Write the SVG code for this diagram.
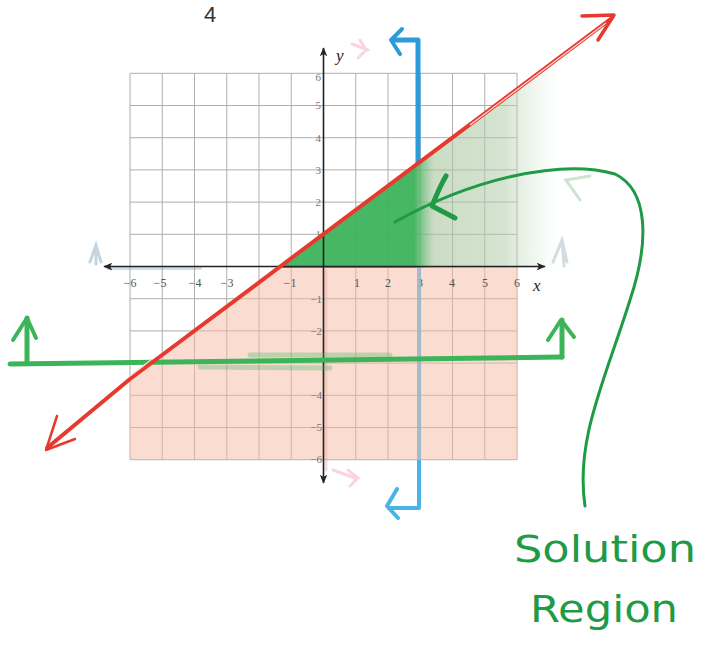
<svg xmlns="http://www.w3.org/2000/svg" width="705" height="671" viewBox="0 0 705 671">
<style>
.grid{stroke:#9a9a9a;stroke-width:1;opacity:0.8}
.tick{font-family:"Liberation Serif",serif;font-size:12px;fill:#555}
.ytick{font-family:"Liberation Serif",serif;font-size:11px;fill:#777;text-anchor:end}
.axis{stroke:#222;stroke-width:1.6;fill:none}
.red{stroke:#e8392f;fill:none;stroke-linecap:round;stroke-linejoin:round}
.green{stroke:#3cb55a;fill:none;stroke-linecap:round;stroke-linejoin:round}
.dgreen{stroke:#1f9a45;fill:none;stroke-linecap:round;stroke-linejoin:round}
.blue{stroke:#2b9bd9;fill:none;stroke-linecap:round;stroke-linejoin:round}
.hand{font-family:"DejaVu Sans","Liberation Sans",sans-serif;fill:#1f9a45;font-size:38px}
</style>
<defs>
<marker id="ah" viewBox="0 0 12 10" refX="11" refY="5" markerWidth="9" markerHeight="8" orient="auto-start-reverse" markerUnits="userSpaceOnUse">
<path d="M0,0 L12,5 L0,10 L3,5 Z" fill="#222"/>
</marker>
<linearGradient id="gshade" gradientUnits="userSpaceOnUse" x1="280" y1="0" x2="560" y2="0">
<stop offset="0" stop-color="#3db35c" stop-opacity="0.95"/>
<stop offset="0.48" stop-color="#3db35c" stop-opacity="0.95"/>
<stop offset="0.55" stop-color="#a9c59f" stop-opacity="0.6"/>
<stop offset="0.8" stop-color="#b3cdaa" stop-opacity="0.55"/>
<stop offset="1" stop-color="#d6eed9" stop-opacity="0"/>
</linearGradient>
</defs>
<rect width="705" height="671" fill="#ffffff"/>

<!-- faint erased marks -->
<g id="ghosts" fill="none" stroke-linecap="round">
<path d="M352,44 L368,50 M360,40 L366,50 L358,58" stroke="#f6b8c8" stroke-width="3" opacity="0.6"/>
<path d="M333,470 L355,478 M348,470 L358,478 L350,486" stroke="#f6b8c8" stroke-width="3" opacity="0.6"/>
<path d="M90,262 L96,245 L101,262 M96,246 L96,264" stroke="#9fb8c6" stroke-width="3" opacity="0.6"/>
<path d="M553,262 L562,240 L567,262 M562,240 L564,266" stroke="#b8c4cc" stroke-width="3" opacity="0.6"/>
<path d="M590,176 L566,180 L580,200" stroke="#b6d8bb" stroke-width="3" opacity="0.7"/>
<line x1="326" y1="270" x2="326" y2="470" stroke="#f4a9b8" stroke-width="3" opacity="0.45"/>
<line x1="108" y1="268" x2="200" y2="268" stroke="#9fc0d2" stroke-width="4" opacity="0.5"/>
</g>

<!-- grid -->
<g id="grid">
<g class="grid">
<line x1="130" y1="73.3" x2="130" y2="459.7"/>
<line x1="162.25" y1="73.3" x2="162.25" y2="459.7"/>
<line x1="194.5" y1="73.3" x2="194.5" y2="459.7"/>
<line x1="226.75" y1="73.3" x2="226.75" y2="459.7"/>
<line x1="259" y1="73.3" x2="259" y2="459.7"/>
<line x1="291.25" y1="73.3" x2="291.25" y2="459.7"/>
<line x1="355.75" y1="73.3" x2="355.75" y2="459.7"/>
<line x1="388" y1="73.3" x2="388" y2="459.7"/>
<line x1="420.25" y1="73.3" x2="420.25" y2="459.7"/>
<line x1="452.5" y1="73.3" x2="452.5" y2="459.7"/>
<line x1="484.75" y1="73.3" x2="484.75" y2="459.7"/>
<line x1="517" y1="73.3" x2="517" y2="459.7"/>
<line x1="130" y1="73.3" x2="517" y2="73.3"/>
<line x1="130" y1="105.5" x2="517" y2="105.5"/>
<line x1="130" y1="137.7" x2="517" y2="137.7"/>
<line x1="130" y1="169.9" x2="517" y2="169.9"/>
<line x1="130" y1="202.1" x2="517" y2="202.1"/>
<line x1="130" y1="234.3" x2="517" y2="234.3"/>
<line x1="130" y1="298.7" x2="517" y2="298.7"/>
<line x1="130" y1="330.9" x2="517" y2="330.9"/>
<line x1="130" y1="363.1" x2="517" y2="363.1"/>
<line x1="130" y1="395.3" x2="517" y2="395.3"/>
<line x1="130" y1="427.5" x2="517" y2="427.5"/>
<line x1="130" y1="459.7" x2="517" y2="459.7"/>
</g>
</g>

<!-- shading -->
<g id="shading">
<polygon points="280.5,266.5 517,266.5 517,459.7 130,459.7 130,379.2" fill="#f6b9a4" fill-opacity="0.5"/>
<polygon points="280.5,268 560,58 560,268" fill="url(#gshade)"/>
</g>

<!-- axes -->
<g id="axes">
<line class="axis" x1="104" y1="266.5" x2="545" y2="266.5" marker-start="url(#ah)" marker-end="url(#ah)"/>
<line class="axis" x1="323.5" y1="483" x2="323.5" y2="48" marker-start="url(#ah)" marker-end="url(#ah)"/>
<text x="533" y="291" font-family="Liberation Serif,serif" font-style="italic" font-size="17" fill="#222">x</text>
<text x="336" y="61" font-family="Liberation Serif,serif" font-style="italic" font-size="17" fill="#222">y</text>
<g class="tick" text-anchor="middle">
<text x="130" y="287">−6</text>
<text x="160" y="287">−5</text>
<text x="195" y="287">−4</text>
<text x="227" y="287">−3</text>
<text x="290" y="287">−1</text>
<text x="357" y="287">1</text>
<text x="388" y="287">2</text>
<text x="420" y="287">3</text>
<text x="452" y="287">4</text>
<text x="485" y="287">5</text>
<text x="517" y="287">6</text>
</g>
<g class="ytick">
<text x="321" y="81">6</text>
<text x="321" y="109">5</text>
<text x="321" y="142">4</text>
<text x="321" y="174">3</text>
<text x="321" y="206">2</text>
<text x="321" y="238">1</text>
<text x="322" y="303">−1</text>
<text x="322" y="335">−2</text>
<text x="322" y="399">−4</text>
<text x="322" y="431">−5</text>
<text x="322" y="463">−6</text>
</g>
</g>

<!-- blue boundary x = 3 -->
<g id="blue-line">
<path class="blue" d="M394,40 L418,40 L418,162" stroke-width="5"/>
<path class="blue" d="M402,29 L391,40 L400,54" stroke-width="4"/>
<line x1="419" y1="268" x2="419" y2="460" stroke="#8fb6c6" stroke-width="4" opacity="0.8"/>
<path d="M419,460 L419,508 L390,508" stroke="#4cb3e6" stroke-width="4" fill="none" stroke-linejoin="round"/>
<path d="M397,489 L387,506 L398,518" stroke="#4cb3e6" stroke-width="4" fill="none" stroke-linecap="round" stroke-linejoin="round"/>
</g>

<!-- green boundary y = -3 -->
<g id="green-line">
<path class="green" d="M10,364 L562,357" stroke-width="5"/>
<path d="M200,367 L330,368 M250,355 L390,355" stroke="#3cb55a" stroke-width="5" opacity="0.3" fill="none" stroke-linecap="round"/>
<path class="green" d="M27,362 L27,318" stroke-width="5"/>
<path class="green" d="M13,340 L27,318 L36,338" stroke-width="4"/>
<path class="green" d="M562,357 L562,320" stroke-width="5"/>
<path class="green" d="M548,340 L561,320 L574,337" stroke-width="4"/>
</g>

<!-- red boundary y = 3/4 x + 1 -->
<g id="red-line">
<path class="red" d="M47,448 L130,379 L612,18" stroke-width="4"/>
<path d="M470,125 L606,23" stroke="#ffd9d6" stroke-width="1.2" fill="none"/>
<path d="M130,376 L152,359" stroke="#ffd9d6" stroke-width="1.2" fill="none"/>
<path class="red" d="M582,16 L614,15 L598,40" stroke-width="3.5"/>
<path class="red" d="M57,416 L46,450 L75,439" stroke-width="2.5"/>
</g>

<!-- solution region pointer -->
<g id="pointer">
<path class="dgreen" d="M585,506 C575,440 605,380 630,300 C650,240 648,190 615,174 C560,158 470,180 395,222" stroke-width="3"/>
<path class="dgreen" d="M446,176 C440,186 436,196 432,206 L455,218" stroke-width="5"/>
</g>

<g id="label">
<text class="hand" x="514" y="562" textLength="182" lengthAdjust="spacingAndGlyphs">Solution</text>
<text class="hand" x="530" y="622" textLength="148" lengthAdjust="spacingAndGlyphs">Region</text>
</g>

<text x="204" y="22" font-family="Liberation Sans,sans-serif" font-size="22" fill="#333">4</text>
</svg>
